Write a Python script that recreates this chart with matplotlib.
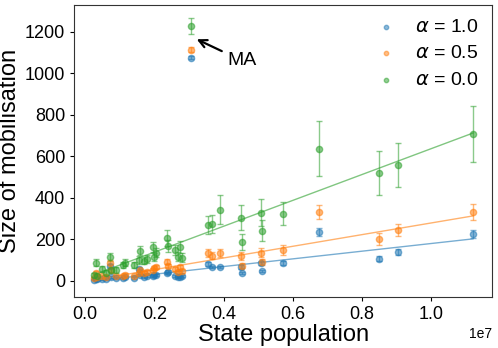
import numpy as np
import matplotlib
matplotlib.use("Agg")
import matplotlib.pyplot as plt

plt.rcParams["font.family"] = ["Liberation Sans", "DejaVu Sans"]
plt.rcParams["mathtext.fontset"] = "dejavusans"

# state population (units of 1e7) and size of mobilisation per alpha
population = [0.026, 0.032, 0.035, 0.049, 0.060, 0.072, 0.075, 0.090, 0.110, 0.116,
              0.142, 0.156, 0.159, 0.170, 0.179, 0.197, 0.199, 0.205, 0.237, 0.240,
              0.260, 0.269, 0.275, 0.280, 0.306, 0.356, 0.367, 0.390, 0.451, 0.454,
              0.509, 0.511, 0.573, 0.676, 0.850, 0.905, 1.121]
mob_a10 = [5, 10, 8, 10, 10, 72, 20, 14, 14, 20,
           14, 58, 30, 19, 25, 24, 30, 30, 39, 45,
           24, 19, 19, 22, 1075, 82, 67, 67, 67, 39,
           87, 48, 87, 236, 106, 140, 226]
err_a10 = [3, 4, 3, 4, 4, 8, 5, 4, 4, 5,
           4, 7, 5, 4, 5, 5, 5, 5, 6, 6,
           5, 4, 4, 4, 8, 8, 7, 7, 8, 6,
           9, 6, 9, 20, 12, 14, 20]
mob_a05 = [14, 39, 19, 24, 20, 87, 53, 24, 24, 30,
           24, 40, 50, 39, 45, 53, 60, 67, 92, 72,
           58, 45, 67, 48, 1113, 135, 120, 135, 120, 72,
           135, 92, 149, 332, 202, 245, 332]
err_a05 = [5, 8, 5, 6, 5, 12, 9, 6, 6, 7,
           6, 8, 9, 8, 8, 9, 10, 10, 13, 11,
           10, 9, 11, 9, 12, 18, 17, 18, 20, 12,
           22, 15, 22, 32, 29, 30, 38]
mob_a00 = [29, 87, 24, 58, 40, 116, 53, 53, 77, 87,
           77, 100, 145, 96, 106, 164, 116, 135, 207, 169,
           149, 116, 164, 111, 1229, 270, 275, 342, 304, 188,
           328, 241, 323, 636, 520, 559, 708]
err_a00 = [10, 16, 9, 13, 11, 18, 13, 13, 15, 16,
           15, 18, 22, 17, 18, 24, 20, 22, 40, 28,
           26, 22, 28, 22, 40, 42, 42, 70, 60, 38,
           65, 50, 55, 132, 108, 106, 135]

# linear fits (slope per 1e7, intercept)
fit_slope = [185, 281, 623]
fit_intercept = [-5, -2, 14]
fit_range = [0.026, 1.121]

labels = [r"$\alpha$ = 1.0", r"$\alpha$ = 0.5", r"$\alpha$ = 0.0"]
colors = ["tab:blue", "tab:orange", "tab:green"]

fig = plt.figure(figsize=(4.98, 3.48), dpi=100)
ax = fig.add_axes([0.149, 0.147, 0.839, 0.839])

x = np.array(population) * 1e7
series = [(mob_a10, err_a10), (mob_a05, err_a05), (mob_a00, err_a00)]
for i, (y, e) in enumerate(series):
    ax.errorbar(x, y, yerr=e, fmt="o", color=colors[i], alpha=0.55,
                markersize=4.5, capsize=2.5, elinewidth=1, capthick=1)
    ax.scatter([], [], s=10, color=colors[i], alpha=0.5, label=labels[i])
    xf = np.array(fit_range) * 1e7
    ax.plot(xf, fit_intercept[i] + fit_slope[i] * np.array(fit_range),
            color=colors[i], alpha=0.6, linewidth=1)

ax.annotate("MA", xy=(0.315e7, 1170), xytext=(0.41e7, 1040),
            fontsize=14, arrowprops=dict(arrowstyle="->", color="black", lw=1.6))

ax.set_xlim(-0.032e7, 1.176e7)
ax.set_ylim(-77, 1330)
ax.set_xlabel("State population", fontsize=17, labelpad=1)
ax.set_ylabel("Size of mobilisation", fontsize=17, labelpad=3)
ax.tick_params(labelsize=13, length=3)
for s in ax.spines.values():
    s.set_color("#333333")
ax.xaxis.get_offset_text().set_fontsize(10)
ax.legend(frameon=False, fontsize=14, loc="upper right", handlelength=1.0,
          handletextpad=1.0, borderaxespad=0.3, labelspacing=0.45)

fig.savefig("out.png", dpi=100)
